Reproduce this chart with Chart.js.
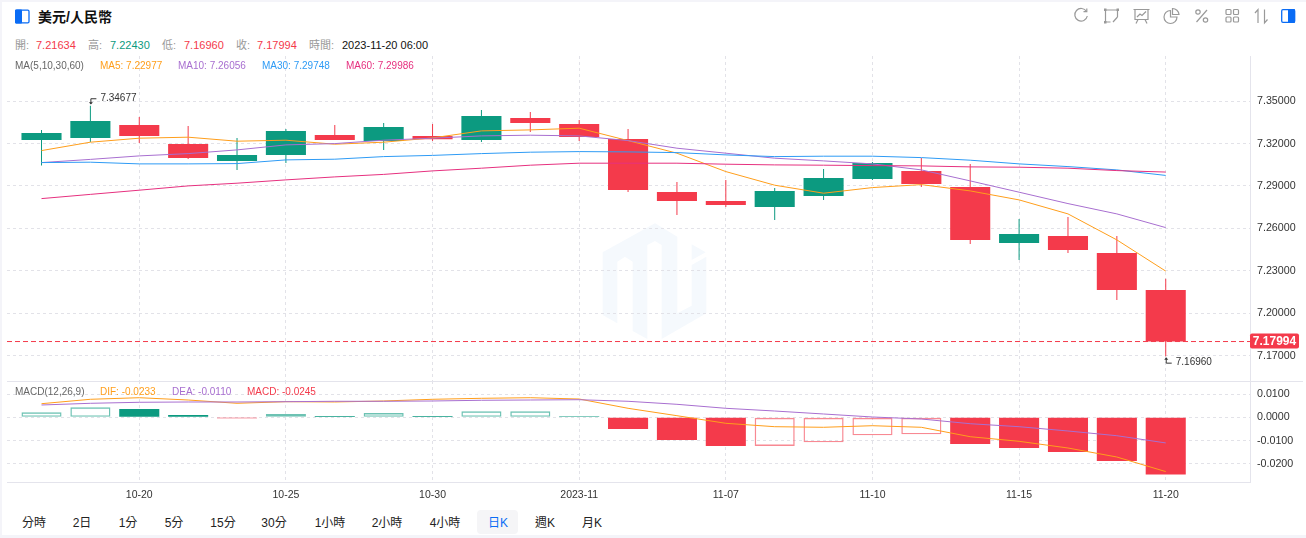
<!DOCTYPE html>
<html><head><meta charset="utf-8">
<script src="https://cdn.jsdelivr.net/npm/chart.js@4"></script>
<style>
html,body{margin:0;padding:0;background:#f4f4f9;overflow:hidden}
body{width:1306px;height:538px;position:relative;font-family:"Liberation Sans",Arial,"Noto Sans CJK TC",sans-serif}
#card{position:absolute;left:2px;top:2px;width:1304px;height:533px;background:#fff}
.t{position:absolute;white-space:nowrap;line-height:14px}
.o{font-size:11px;top:38px}.m{font-size:10px;top:59px}.d{font-size:10px;top:385px}
.tab{position:absolute;top:515px;font-size:12px;line-height:16px;color:#222;transform:translateX(-50%);white-space:nowrap}
canvas{position:absolute;left:0}
svg{position:absolute;overflow:visible}
.hl{position:absolute;background:#e4e4ec;height:1px}
</style></head><body>
<div id="card"></div>
<svg style="left:590px;top:215px" width="130" height="135" viewBox="0 0 390 405"><path fill="#f5f9fd" d="M38 112L195 25L262 65V295L305 272V150L349 125V295L215 372V90L195 78L172 90V372L128 348V140L105 125L82 140V325L38 300ZM305 88L347 112L305 135Z"/></svg>

<svg style="left:15px;top:9px" width="15" height="15"><rect x=".7" y="1.2" width="13.3" height="12.6" rx="1.2" fill="#fff" stroke="#0a6cf5" stroke-width="1.3"/><rect x="0" y=".5" width="7" height="14" rx="1" fill="#0a6cf5"/></svg>
<div class="t" style="left:38px;top:9px;font-size:14px;font-weight:600;color:#111;line-height:16px">美元/人民幣</div>

<div class="t o" style="left:15px;color:#999">開:</div><div class="t o" style="left:36px;color:#f43a4b">7.21634</div>
<div class="t o" style="left:88px;color:#999">高:</div><div class="t o" style="left:110px;color:#0c9a80">7.22430</div>
<div class="t o" style="left:162px;color:#999">低:</div><div class="t o" style="left:184px;color:#f43a4b">7.16960</div>
<div class="t o" style="left:236px;color:#999">收:</div><div class="t o" style="left:257px;color:#f43a4b">7.17994</div>
<div class="t o" style="left:309px;color:#999">時間:</div><div class="t o" style="left:342px;color:#111">2023-11-20 06:00</div>

<canvas id="main" width="1306" height="325" style="top:56px;width:1306px;height:325px"></canvas>
<canvas id="macd" width="1306" height="123" style="top:381px;width:1306px;height:123px"></canvas>
<div class="hl" style="left:7px;top:381px;width:1296px"></div>

<div class="t m" style="left:15px;color:#666">MA(5,10,30,60)</div>
<div class="t m" style="left:100px;color:#ff9e1b">MA5: 7.22977</div>
<div class="t m" style="left:178px;color:#a86fd0">MA10: 7.26056</div>
<div class="t m" style="left:262px;color:#2e9bf5">MA30: 7.29748</div>
<div class="t m" style="left:346px;color:#e6307f">MA60: 7.29986</div>

<div class="t d" style="left:15px;color:#666">MACD(12,26,9)</div>
<div class="t d" style="left:100px;color:#ff9e1b">DIF: -0.0233</div>
<div class="t d" style="left:172px;color:#a86fd0">DEA: -0.0110</div>
<div class="t d" style="left:247px;color:#f43a4b">MACD: -0.0245</div>

<div style="position:absolute;left:477px;top:510px;width:41px;height:24px;border-radius:4px;background:#f5f5f7"></div>
<div class="tab" style="left:34px">分時</div><div class="tab" style="left:82px">2日</div><div class="tab" style="left:128px">1分</div>
<div class="tab" style="left:174px">5分</div><div class="tab" style="left:223px">15分</div><div class="tab" style="left:274px">30分</div>
<div class="tab" style="left:330px">1小時</div><div class="tab" style="left:387px">2小時</div><div class="tab" style="left:445px">4小時</div>
<div class="tab" style="left:498px;color:#0a6cf5">日K</div><div class="tab" style="left:545px">週K</div><div class="tab" style="left:592px">月K</div>

<svg style="left:1072px;top:7px" width="232" height="18" fill="none" stroke="#999" stroke-width="1.2">
<path d="M14.5 4.5A6.3 6.3 0 1 0 15.3 9"/><path d="M11.5 4.7h3.3V1.4"/>
<path d="M33.5 3h12M33.5 3v12M33.5 15h5M45.5 3v7M41 15l4.5-5"/><rect x="32" y="1.5" width="2.5" height="2.5" fill="#999" stroke="none"/><rect x="44.5" y="1.5" width="2.5" height="2.5" fill="#999" stroke="none"/><rect x="32" y="14" width="2.5" height="2.5" fill="#999" stroke="none"/>
<path d="M63 2.5h13v10H63zM61.5 2.5h16M66 12.5l-2 4M73 12.5l2 4M65 10l3-3 2 1.5 4-4"/>
<path d="M98.5 3.5A6.5 6.5 0 1 0 105 10H98.5Z"/><path d="M100.5 1.5A6.5 6.5 0 0 1 107 7.5h-6.5Z"/>
<circle cx="126" cy="5" r="2.2"/><circle cx="133.5" cy="13" r="2.2"/><path d="M135 3l-10.500 12"/>
<rect x="154" y="2.500" width="5" height="5" rx="1"/><rect x="161.500" y="2.500" width="5" height="5" rx="1"/><rect x="154" y="10" width="5" height="5" rx="1"/><rect x="161.500" y="10" width="5" height="5" rx="1"/>
<path d="M186 16V2.500L183 6M192.500 2.500V16L195.500 12.500"/>
<rect x="209.700" y="2.700" width="13" height="12.600" rx="1.200" fill="#fff" stroke="#0a6cf5" stroke-width="1.300"/><rect x="216" y="2" width="7" height="14" rx="1" fill="#0a6cf5" stroke="none"/>
</svg>

<script>
const opens =[7.32262,7.32403,7.33323,7.31979,7.30776,7.31200,7.32616,7.32191,7.32545,7.32262,7.33818,7.33394,7.32333,7.28582,7.27946,7.27521,7.28299,7.29502,7.30068,7.28936,7.24974,7.25469,7.24266,7.21634];
const closes=[7.32757,7.33606,7.32545,7.30988,7.31200,7.32899,7.32262,7.33182,7.32311,7.33960,7.33465,7.32474,7.28724,7.27946,7.27663,7.28653,7.29573,7.30634,7.29149,7.25186,7.25611,7.24479,7.21648,7.17994];
const highs =[7.32969,7.34677,7.33889,7.33252,7.32403,7.33040,7.33323,7.33465,7.33394,7.34384,7.34243,7.33677,7.33040,7.29290,7.29432,7.28866,7.30210,7.30705,7.30988,7.30564,7.26672,7.26814,7.25469,7.22430];
const lows  =[7.30443,7.32120,7.32049,7.30917,7.30139,7.30634,7.32262,7.31554,7.32191,7.32120,7.32828,7.32191,7.28582,7.26955,7.27521,7.26601,7.28016,7.29432,7.28936,7.24903,7.23771,7.24266,7.20941,7.16960];
const ma5 =[7.31505,7.32099,7.32382,7.32453,7.32170,7.32240,7.31957,7.32099,7.32403,7.32899,7.32969,7.33090,7.32212,7.31321,7.30019,7.29056,7.28490,7.28887,7.29099,7.28653,7.28016,7.27026,7.25186,7.22977];
const ma10=[7.30656,7.30882,7.31130,7.31292,7.31554,7.31908,7.32000,7.32240,7.32382,7.32545,7.32594,7.32545,7.32212,7.31674,7.31321,7.30967,7.30776,7.30564,7.30139,7.29361,7.28561,7.27755,7.27026,7.26056];
const ma30=[7.30656,7.30684,7.30564,7.30564,7.30585,7.30847,7.30896,7.31080,7.31165,7.31292,7.31391,7.31434,7.31413,7.31363,7.31200,7.31080,7.31108,7.31108,7.31009,7.30825,7.30564,7.30373,7.30139,7.29748];
const ma60=[7.28108,7.28406,7.28703,7.29007,7.29198,7.29432,7.29644,7.29821,7.30068,7.30259,7.30472,7.30613,7.30613,7.30613,7.30542,7.30493,7.30472,7.30443,7.30422,7.30351,7.30330,7.30259,7.30090,7.29986];
const macdHist=[0.00215,0.00430,0.00356,0.00099,-0.00017,0.00142,0.00056,0.00185,0.00056,0.00258,0.00258,0.00043,-0.00502,-0.00974,-0.01232,-0.01232,-0.01073,-0.00773,-0.00730,-0.01146,-0.01318,-0.01489,-0.01876,-0.02450];
const dif=[0.00584,0.00773,0.00841,0.00742,0.00601,0.00670,0.00657,0.00700,0.00773,0.00815,0.00841,0.00785,0.00386,0.00069,-0.00258,-0.00403,-0.00429,-0.00361,-0.00429,-0.00833,-0.01030,-0.01318,-0.01704,-0.02330];
const dea=[0.00528,0.00601,0.00644,0.00657,0.00657,0.00670,0.00687,0.00687,0.00700,0.00730,0.00742,0.00755,0.00687,0.00558,0.00386,0.00270,0.00142,0.00013,-0.00073,-0.00275,-0.00403,-0.00588,-0.00790,-0.01100];
const xTickIndex=[2,5,8,11,14,17,20,23];
const xTickLabels=['10-20','10-25','10-30','2023-11','11-07','11-10','11-15','11-20'];
const priceTicks=[7.35,7.32,7.29,7.26,7.23,7.20,7.17];
const macdTicks=[0.01,0,-0.01,-0.02];
const xRange=[-0.706,24.724], priceRange=[7.15202,7.38198], macdRange=[-0.02777,0.01558];

const UP='#0c9a80',DOWN='#f43a4b',GRID='#e2e2e8',AXIS='#e4e4ec',TXT='#333';
const FONT='"Liberation Sans",Arial,sans-serif';
const pts=a=>a.map((y,x)=>({x,y}));
const line=(data,color,w)=>({type:'line',data,borderColor:color,borderWidth:w||1,pointRadius:0,tension:0,order:0,fill:false});
const candleColor=closes.map((c,i)=>c>=opens[i]?UP:DOWN);
const xScale=(showLabels)=>({type:'linear',min:xRange[0],max:xRange[1],offset:false,
  afterBuildTicks:s=>{s.ticks=xTickIndex.map(value=>({value}))},
  afterFit:s=>{s.height=showLabels?22:0;s.paddingLeft=0;s.paddingRight=0;s.paddingTop=0;s.paddingBottom=0},
  grid:{offset:false,color:GRID,drawTicks:false,lineWidth:1},
  border:{display:showLabels,color:AXIS,dash:[3,3]},
  ticks:{display:showLabels,autoSkip:false,maxRotation:0,padding:7,color:TXT,font:{size:10.5,family:FONT},
    callback:v=>xTickLabels[xTickIndex.indexOf(v)]}});
const yScale=(range,ticks,dec)=>({position:'right',min:range[0],max:range[1],
  afterBuildTicks:s=>{s.ticks=ticks.map(value=>({value}))},
  afterFit:s=>{s.width=56;s.paddingTop=0;s.paddingBottom=0;s.paddingLeft=0;s.paddingRight=0},
  grid:{color:GRID,drawTicks:false,lineWidth:1},
  border:{display:true,color:AXIS,dash:[3,3]},
  ticks:{padding:7,color:TXT,font:{size:10.7,family:FONT},autoSkip:false,callback:v=>v.toFixed(dec)}});
const base={responsive:false,animation:false,devicePixelRatio:1,plugins:{legend:{display:false},tooltip:{enabled:false}},events:[]};
const layout={autoPadding:false,padding:{left:7,right:0,top:0,bottom:0}};

function note(ctx,text,x,y,dir){
  ctx.save();ctx.strokeStyle='#333';ctx.fillStyle='#333';ctx.lineWidth=1;
  ctx.beginPath();ctx.moveTo(x+.5,y);ctx.lineTo(x+.5,y+dir*5);ctx.lineTo(x+6,y+dir*5);ctx.stroke();
  ctx.beginPath();ctx.moveTo(x-1.5,y+dir*1.5);ctx.lineTo(x+.5,y-dir*.8);ctx.lineTo(x+2.5,y+dir*1.5);ctx.closePath();ctx.fill();
  ctx.font='10px '+FONT;ctx.textBaseline='middle';ctx.textAlign='left';
  ctx.fillText(text,x+10,y+dir*5-.5);ctx.restore();
}
const decor={id:'decor',afterDraw(c){
  const ctx=c.ctx,X=c.scales.x,Y=c.scales.y,last=closes[closes.length-1];
  const hi=Math.max(...highs),lo=Math.min(...lows);
  note(ctx,hi.toFixed(5),X.getPixelForValue(highs.indexOf(hi)),Y.getPixelForValue(hi)-2,-1);
  note(ctx,lo.toFixed(5),X.getPixelForValue(lows.indexOf(lo)),Y.getPixelForValue(lo)+2,1);
  const py=Y.getPixelForValue(last);
  ctx.save();ctx.fillStyle=DOWN;ctx.beginPath();ctx.roundRect(1250,py-8,49,15,2);ctx.fill();
  ctx.fillStyle='#fff';ctx.font='bold 12px '+FONT;ctx.textAlign='center';ctx.textBaseline='middle';
  ctx.fillText(last.toFixed(5),1274.5,py);ctx.restore();
}};

new Chart(document.getElementById('main'),{
  data:{datasets:[
    {type:'bar',data:lows.map((l,x)=>({x,y:[l,highs[x]]})),backgroundColor:candleColor,barThickness:1,grouped:false,order:3,inflateAmount:0},
    {type:'bar',data:opens.map((o,x)=>({x,y:[o,closes[x]]})),backgroundColor:candleColor,barPercentage:.82,categoryPercentage:1,grouped:false,order:2,inflateAmount:0},
    line(pts(ma60),'#e6307f'),line(pts(ma30),'#2e9bf5'),line(pts(ma10),'#a86fd0'),line(pts(ma5),'#ff9e1b'),
    Object.assign(line(xRange.map(x=>({x,y:closes[closes.length-1]})),DOWN),{borderDash:[5,3]})
  ]},
  options:Object.assign({},base,{layout,scales:{x:xScale(false),y:yScale(priceRange,priceTicks,5)}}),
  plugins:[decor]
});

const rising=macdHist.map((v,i)=>i===0||v>=macdHist[i-1]);
const macdColor=macdHist.map(v=>v>=0?UP:DOWN);
new Chart(document.getElementById('macd'),{
  data:{datasets:[
    {type:'bar',data:pts(macdHist),barPercentage:.82,categoryPercentage:1,grouped:false,order:2,minBarLength:1,inflateAmount:0,borderSkipped:false,
     backgroundColor:macdHist.map((v,i)=>rising[i]?'rgba(255,255,255,0)':macdColor[i]),
     borderColor:macdHist.map((v,i)=>rising[i]?(v>=0?'rgba(12,154,128,.6)':'rgba(244,58,75,.6)'):macdColor[i]),
     borderWidth:macdHist.map((v,i)=>rising[i]?1.4:0)},
    line(pts(dea),'#a86fd0'),line(pts(dif),'#ff9e1b')
  ]},
  options:Object.assign({},base,{layout,scales:{x:xScale(true),y:yScale(macdRange,macdTicks,4)}})
});
</script>
</body></html>
